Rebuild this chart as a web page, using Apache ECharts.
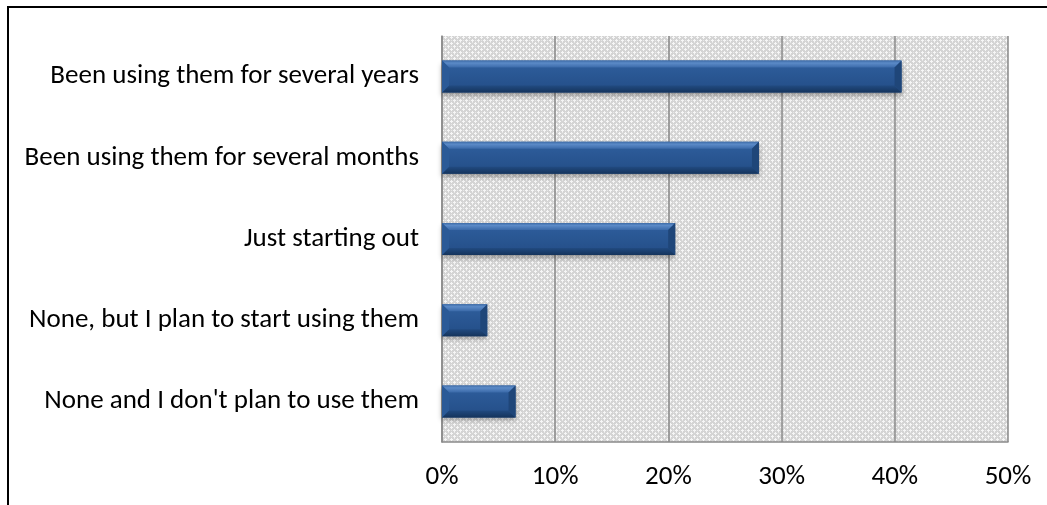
<!DOCTYPE html>
<html>
<head>
<meta charset="utf-8">
<script src="https://cdn.jsdelivr.net/npm/echarts@6/dist/echarts.min.js"></script>
<style>
  html, body { margin: 0; padding: 0; background: #fff; }
  #frame { position: absolute; left: 7px; top: 6px; width: 1040px; height: 499px;
           border-top: 2px solid #000; border-left: 2px solid #000; box-sizing: border-box; }
  #chart { position: absolute; left: 0; top: 0; width: 1047px; height: 505px; }
</style>
</head>
<body>
<div id="frame"></div>
<div id="chart"></div>
<script>
// Survey answers, top to bottom
const categories = [
  'Been using them for several years',
  'Been using them for several months',
  'Just starting out',
  'None, but I plan to start using them',
  "None and I don't plan to use them"
];
// Share of respondents (%)
const shares = [40.6, 28.0, 20.6, 4.0, 6.5];
// Value axis range and step (%)
const axisMin = 0;
const axisMax = 50;
const axisStep = 10;

// Hatched tile used to fill the plotting area
function hatchTile() {
  const c = document.createElement('canvas');
  c.width = 6; c.height = 6;
  const g = c.getContext('2d');
  g.fillStyle = '#d4d4d4';
  g.fillRect(0, 0, 6, 6);
  g.fillStyle = '#f6f6f6';
  g.fillRect(1, 0, 1, 3);
  g.fillRect(0, 1, 3, 1);
  g.fillRect(4, 3, 1, 3);
  g.fillRect(3, 4, 3, 1);
  g.fillStyle = '#e6e6e6';
  g.fillRect(4, 0, 1, 1);
  g.fillRect(1, 4, 1, 1);
  return c;
}

const BAR_THICKNESS = 32;
const BEVEL = 7;

// Bevelled bar: flat face plus four sloped edge facets
function renderBevelBar(params, api) {
  const idx = api.value(0);
  const val = api.value(1);
  const start = api.coord([0, idx]);
  const end = api.coord([val, idx]);
  const x0 = start[0], x1 = end[0];
  const y0 = start[1] - BAR_THICKNESS / 2, y1 = start[1] + BAR_THICKNESS / 2;
  const b = Math.min(BEVEL, (x1 - x0) / 2);
  return {
    type: 'group',
    children: [
      {
        type: 'rect',
        shape: { x: x0, y: y0, width: x1 - x0, height: y1 - y0 },
        style: {
          fill: {
            type: 'linear', x: 0, y: 0, x2: 0, y2: 1,
            colorStops: [
              { offset: 0, color: '#2f5f9e' },
              { offset: 1, color: '#234d86' }
            ]
          },
          shadowColor: 'rgba(0,0,0,0.35)',
          shadowBlur: 5,
          shadowOffsetY: 3
        }
      },
      { // top facet
        type: 'polygon',
        shape: { points: [[x0, y0], [x1, y0], [x1 - b, y0 + b], [x0 + b, y0 + b]] },
        style: {
          fill: {
            type: 'linear', x: 0, y: 0, x2: 0, y2: 1,
            colorStops: [
              { offset: 0, color: '#3e6ca8' },
              { offset: 0.35, color: '#5b8ac7' },
              { offset: 1, color: '#3b6aa9' }
            ]
          }
        }
      },
      { // bottom facet
        type: 'polygon',
        shape: { points: [[x0, y1], [x1, y1], [x1 - b, y1 - b], [x0 + b, y1 - b]] },
        style: {
          fill: {
            type: 'linear', x: 0, y: 0, x2: 0, y2: 1,
            colorStops: [
              { offset: 0, color: '#214a80' },
              { offset: 1, color: '#15345c' }
            ]
          }
        }
      },
      { // left facet
        type: 'polygon',
        shape: { points: [[x0, y0], [x0 + b, y0 + b], [x0 + b, y1 - b], [x0, y1]] },
        style: { fill: '#2b5a97' }
      },
      { // right facet
        type: 'polygon',
        shape: { points: [[x1, y0], [x1 - b, y0 + b], [x1 - b, y1 - b], [x1, y1]] },
        style: { fill: '#1f4679' }
      }
    ]
  };
}

const chart = echarts.init(document.getElementById('chart'), null, { renderer: 'canvas' });
const fontFamily = 'Carlito, Calibri, Lato, "Open Sans", sans-serif';

chart.setOption({
  animation: false,
  grid: {
    left: 442, top: 36, right: 39, bottom: 63,
    show: true,
    borderWidth: 0,
    backgroundColor: { image: hatchTile(), repeat: 'repeat' }
  },
  xAxis: {
    type: 'value',
    min: axisMin, max: axisMax, interval: axisStep,
    axisLine: { show: true, lineStyle: { color: '#8a8a8a', width: 1.5 } },
    axisTick: { show: false },
    splitLine: { show: true, lineStyle: { color: '#8a8a8a', width: 1.5 } },
    axisLabel: {
      margin: 22,
      color: '#000',
      fontFamily: fontFamily,
      fontSize: 27,
      formatter: v => v + '%'
    }
  },
  yAxis: {
    type: 'category',
    inverse: true,
    data: categories,
    axisLine: { show: true, lineStyle: { color: '#8a8a8a', width: 1.5 } },
    axisTick: { show: false },
    axisLabel: {
      margin: 23,
      color: '#000',
      fontFamily: fontFamily,
      fontSize: 27
    }
  },
  series: [{
    type: 'custom',
    renderItem: renderBevelBar,
    encode: { x: 1, y: 0 },
    data: shares.map((v, i) => [i, v])
  }]
});
</script>
</body>
</html>
